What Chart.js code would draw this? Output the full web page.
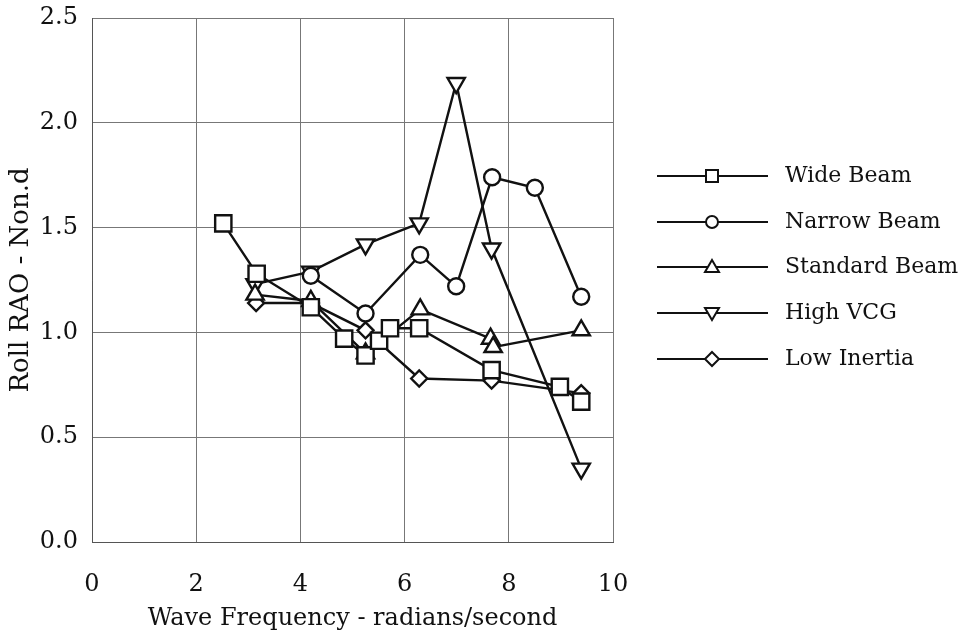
<!DOCTYPE html>
<html>
<head>
<meta charset="utf-8">
<script src="https://cdn.jsdelivr.net/npm/chart.js@4.4.1/dist/chart.umd.min.js"></script>
<style>
  html, body { margin: 0; padding: 0; background: #fff; }
</style>
</head>
<body>
<canvas id="rao-chart" width="970" height="638"></canvas>
<script>
// wave frequency (rad/s) and roll RAO values
var wideX = [2.52, 3.16, 4.2, 4.84, 5.25, 5.51, 5.72, 6.28, 7.67, 8.98, 9.39];
var wideY = [1.52, 1.28, 1.12, 0.97, 0.89, 0.96, 1.02, 1.02, 0.82, 0.74, 0.67];
var narrowX = [4.2, 5.25, 6.3, 6.99, 7.68, 8.5, 9.39];
var narrowY = [1.27, 1.09, 1.37, 1.22, 1.74, 1.69, 1.17];
var standardX = [3.13, 4.2, 5.25, 6.3, 7.65, 7.7, 9.39];
var standardY = [1.18, 1.15, 0.9, 1.11, 0.97, 0.93, 1.01];
var highX = [3.13, 4.2, 5.25, 6.28, 6.99, 7.67, 9.39];
var highY = [1.23, 1.29, 1.42, 1.52, 2.19, 1.4, 0.35];
var lowX = [3.15, 4.2, 5.25, 6.28, 7.67, 9.39];
var lowY = [1.14, 1.14, 1.01, 0.78, 0.77, 0.71];

var seriesNames = ["Wide Beam", "Narrow Beam", "Standard Beam", "High VCG", "Low Inertia"];
var xTicks = [0, 2, 4, 6, 8, 10];
var yTicks = [0.0, 0.5, 1.0, 1.5, 2.0, 2.5];

var ink = "#111";
var serif = "'DejaVu Serif', 'Liberation Serif', serif";

function pts(xs, ys) {
  return xs.map(function (x, i) { return { x: x, y: ys[i] }; });
}

function series(name, xs, ys, style, radius, rot) {
  return {
    label: name,
    data: pts(xs, ys),
    borderColor: ink,
    borderWidth: 2.4,
    backgroundColor: "#fff",
    pointStyle: style,
    rotation: rot || 0,
    pointRadius: radius,
    pointBorderWidth: 2.4,
    pointBackgroundColor: "#fff",
    pointBorderColor: ink,
    tension: 0,
    fill: false,
  };
}

var datasets = [
  series(seriesNames[0], wideX, wideY, "rect", 11.5),
  series(seriesNames[1], narrowX, narrowY, "circle", 8),
  series(seriesNames[2], standardX, standardY, "triangle", 10),
  series(seriesNames[3], highX, highY, "triangle", 10, 180),
  series(seriesNames[4], lowX, lowY, "rectRot", 8),
];

// small marker for the legend rows
function marker(ctx, style, rot, x, y) {
  ctx.beginPath();
  if (style === "rect") {
    ctx.rect(x - 6, y - 6, 12, 12);
  } else if (style === "circle") {
    ctx.arc(x, y, 6, 0, Math.PI * 2);
  } else if (style === "rectRot") {
    ctx.moveTo(x, y - 7);
    ctx.lineTo(x + 7, y);
    ctx.lineTo(x, y + 7);
    ctx.lineTo(x - 7, y);
    ctx.closePath();
  } else if (style === "triangle") {
    var d = rot === 180 ? -1 : 1;
    ctx.moveTo(x, y - 7 * d);
    ctx.lineTo(x + 7, y + 5 * d);
    ctx.lineTo(x - 7, y + 5 * d);
    ctx.closePath();
  }
  ctx.fill();
  ctx.stroke();
}

var sideLegend = {
  id: "sideLegend",
  afterDraw: function (chart) {
    var ctx = chart.ctx;
    var rowY = [176, 222, 267, 313, 359];
    ctx.save();
    chart.data.datasets.forEach(function (ds, i) {
      var y = rowY[i];
      ctx.strokeStyle = ink;
      ctx.lineWidth = 2;
      ctx.beginPath();
      ctx.moveTo(657, y);
      ctx.lineTo(768, y);
      ctx.stroke();
      ctx.fillStyle = "#fff";
      marker(ctx, ds.pointStyle, ds.rotation, 712, y);
      ctx.fillStyle = ink;
      ctx.font = "22px " + serif;
      ctx.textBaseline = "middle";
      ctx.textAlign = "left";
      ctx.fillText(ds.label, 785, y);
    });
    ctx.restore();
  },
};

new Chart("rao-chart", {
  type: "line",
  data: { datasets: datasets },
  plugins: [sideLegend],
  options: {
    responsive: false,
    animation: false,
    layout: { padding: { left: 0, top: 18, right: 357, bottom: 0 } },
    plugins: {
      legend: { display: false },
      tooltip: { enabled: false },
    },
    scales: {
      x: {
        type: "linear",
        min: 0,
        max: 10,
        afterBuildTicks: function (scale) {
          scale.ticks = xTicks.map(function (v) { return { value: v }; });
        },
        afterFit: function (scale) {
          scale.height = 96;
          scale.paddingLeft = 0;
          scale.paddingRight = 0;
        },
        grid: { color: "#777", lineWidth: 1, drawTicks: false },
        border: { color: "#555", width: 1 },
        ticks: {
          color: ink,
          padding: 28,
          font: { family: serif, size: 24 },
          maxRotation: 0,
        },
        title: {
          display: true,
          text: "Wave Frequency - radians/second",
          color: ink,
          font: { family: serif, size: 24 },
          padding: { top: 0, bottom: 5 },
        },
      },
      y: {
        type: "linear",
        min: 0,
        max: 2.5,
        afterBuildTicks: function (scale) {
          scale.ticks = yTicks.map(function (v) { return { value: v }; });
        },
        afterFit: function (scale) {
          scale.width = 92;
          scale.paddingTop = 0;
          scale.paddingBottom = 0;
        },
        grid: { color: "#777", lineWidth: 1, drawTicks: false },
        border: { color: "#555", width: 1 },
        ticks: {
          color: ink,
          padding: 14,
          font: { family: serif, size: 24 },
          callback: function (v) { return Number(v).toFixed(1); },
        },
        title: {
          display: true,
          text: "Roll RAO - Non.d",
          color: ink,
          font: { family: serif, size: 26 },
          padding: { top: 6, bottom: 0 },
        },
      },
    },
  },
});
</script>
</body>
</html>
